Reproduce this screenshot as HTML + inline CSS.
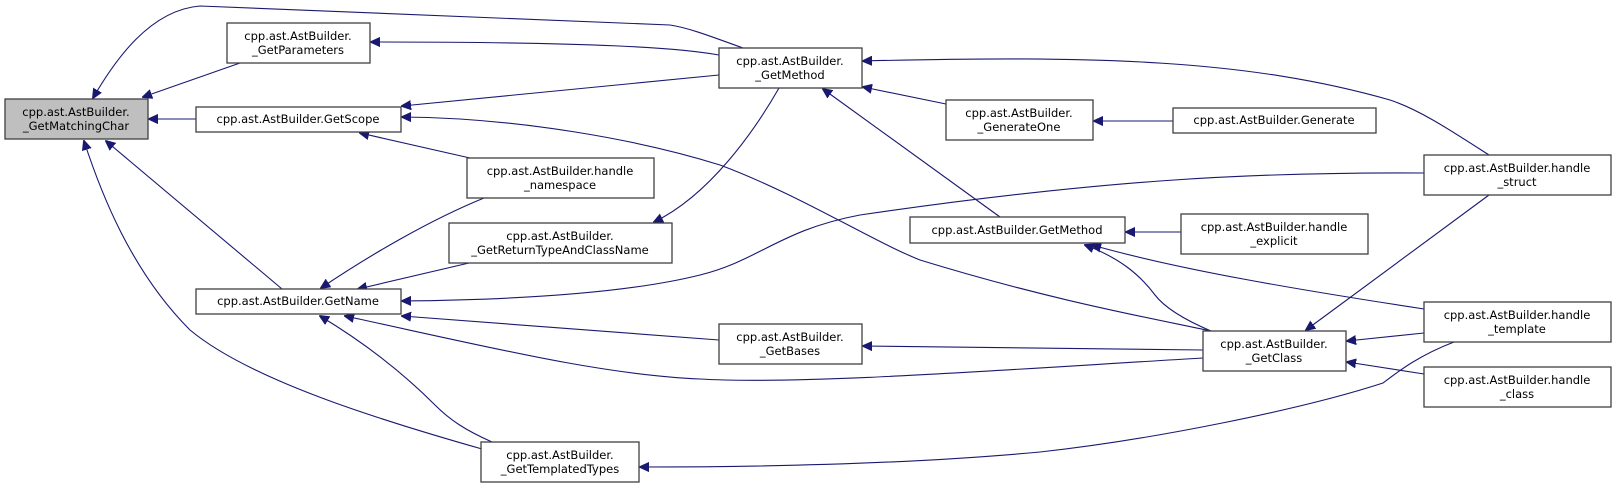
<!DOCTYPE html>
<html><head><meta charset="utf-8"><style>
html,body{margin:0;padding:0;background:#fff;}
svg{display:block;}
text{font-family:"DejaVu Sans","Liberation Sans",sans-serif;font-size:11.5px;fill:#000;}
.b{fill:#fff;stroke:#404040;stroke-width:1.3;}
.e{fill:none;stroke:#191970;stroke-width:1.1;}
</style></head><body>
<svg width="1616" height="488" viewBox="0 0 1616 488" xmlns="http://www.w3.org/2000/svg">
<defs><marker id="a" viewBox="0 0 10 10" refX="9" refY="5" markerWidth="10" markerHeight="10" markerUnits="userSpaceOnUse" orient="auto"><path d="M0,0.5 L10,5 L0,9.5 z" fill="#191970" stroke="#191970"/></marker></defs>
<g class="e" marker-end="url(#a)">
<path d="M240,63 L143,97"/>
<path d="M196,119 L149,119"/>
<path d="M743,48 C715,38 690,28 670,25 L200,6 C150,10 115,60 93,98"/>
<path d="M719,55 C680,48 600,42 371,42"/>
<path d="M719,75 L402,106"/>
<path d="M1211,331 C1150,318 1050,300 920,260 C870,240 800,195 720,165 C640,140 520,118 402,117"/>
<path d="M470,158 L360,133"/>
<path d="M779,88 C755,130 710,195 654,222"/>
<path d="M282,289 L106,141"/>
<path d="M482,449 C380,420 250,380 190,330 C130,270 100,190 84,141"/>
<path d="M484,198 C430,220 370,255 321,288"/>
<path d="M469,263 L358,289"/>
<path d="M1424,173 C1250,172 1100,180 860,215 C780,230 760,260 700,275 C620,295 500,300 402,301"/>
<path d="M719,340 L402,316"/>
<path d="M1203,358 C1000,370 800,385 700,379 C600,375 480,345 345,316"/>
<path d="M492,442 C465,430 450,420 435,405 C400,370 360,340 320,316"/>
<path d="M1454,342 C1420,355 1400,370 1383,383 C1300,410 1150,440 1040,452 C900,465 750,467 640,467"/>
<path d="M1489,155 C1450,130 1420,110 1390,100 C1250,60 1100,55 863,61"/>
<path d="M946,104 L863,87"/>
<path d="M1173,121 L1094,121"/>
<path d="M1000,217 L823,89"/>
<path d="M1181,232 L1126,232"/>
<path d="M1211,331 C1185,320 1165,308 1155,295 C1140,275 1120,258 1085,245"/>
<path d="M1424,309 C1300,290 1180,270 1092,245"/>
<path d="M1489,195 L1306,330"/>
<path d="M1424,333 L1347,341"/>
<path d="M1424,374 L1347,362"/>
<path d="M1203,350 L863,346"/>
</g>
<g text-anchor="middle">
<rect x="5" y="99" width="143" height="40" style="fill:#bfbfbf;stroke:#404040;stroke-width:1.3"/>
<text x="76" y="116">cpp.ast.AstBuilder.</text><text x="76" y="130">_GetMatchingChar</text>
<rect class="b" x="227" y="23" width="143" height="40"/><text x="298" y="40">cpp.ast.AstBuilder.</text><text x="298" y="54">_GetParameters</text>
<rect class="b" x="196" y="107" width="205" height="25"/><text x="298" y="123">cpp.ast.AstBuilder.GetScope</text>
<rect class="b" x="467" y="158" width="187" height="40"/><text x="560" y="175">cpp.ast.AstBuilder.handle</text><text x="560" y="189">_namespace</text>
<rect class="b" x="449" y="223" width="223" height="40"/><text x="560" y="240">cpp.ast.AstBuilder.</text><text x="560" y="254">_GetReturnTypeAndClassName</text>
<rect class="b" x="196" y="289" width="205" height="25"/><text x="298" y="305">cpp.ast.AstBuilder.GetName</text>
<rect class="b" x="481" y="442" width="158" height="40"/><text x="560" y="459">cpp.ast.AstBuilder.</text><text x="560" y="473">_GetTemplatedTypes</text>
<rect class="b" x="719" y="48" width="143" height="40"/><text x="790" y="65">cpp.ast.AstBuilder.</text><text x="790" y="79">_GetMethod</text>
<rect class="b" x="719" y="324" width="143" height="40"/><text x="790" y="341">cpp.ast.AstBuilder.</text><text x="790" y="355">_GetBases</text>
<rect class="b" x="946" y="100" width="147" height="40"/><text x="1019" y="117">cpp.ast.AstBuilder.</text><text x="1019" y="131">_GenerateOne</text>
<rect class="b" x="910" y="217" width="215" height="26"/><text x="1017" y="234">cpp.ast.AstBuilder.GetMethod</text>
<rect class="b" x="1173" y="108" width="203" height="25"/><text x="1274" y="124">cpp.ast.AstBuilder.Generate</text>
<rect class="b" x="1181" y="214" width="187" height="40"/><text x="1274" y="231">cpp.ast.AstBuilder.handle</text><text x="1274" y="245">_explicit</text>
<rect class="b" x="1203" y="331" width="143" height="40"/><text x="1274" y="348">cpp.ast.AstBuilder.</text><text x="1274" y="362">_GetClass</text>
<rect class="b" x="1424" y="155" width="187" height="40"/><text x="1517" y="172">cpp.ast.AstBuilder.handle</text><text x="1517" y="186">_struct</text>
<rect class="b" x="1424" y="302" width="187" height="40"/><text x="1517" y="319">cpp.ast.AstBuilder.handle</text><text x="1517" y="333">_template</text>
<rect class="b" x="1424" y="367" width="187" height="40"/><text x="1517" y="384">cpp.ast.AstBuilder.handle</text><text x="1517" y="398">_class</text>
</g>
</svg>
</body></html>
